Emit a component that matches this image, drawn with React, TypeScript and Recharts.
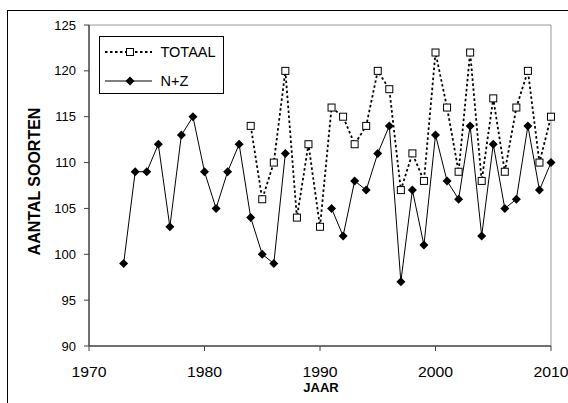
import React from "react";
import {
  LineChart,
  Line,
  XAxis,
  YAxis,
  ReferenceLine,
} from "recharts";

// years 1973..2010
const years = [
  1973, 1974, 1975, 1976, 1977, 1978, 1979, 1980, 1981, 1982, 1983, 1984, 1985,
  1986, 1987, 1988, 1989, 1990, 1991, 1992, 1993, 1994, 1995, 1996, 1997, 1998,
  1999, 2000, 2001, 2002, 2003, 2004, 2005, 2006, 2007, 2008, 2009, 2010,
];

const totaal: (number | null)[] = [
  null, null, null, null, null, null, null, null, null, null, null, 114, 106,
  110, 120, 104, 112, 103, 116, 115, 112, 114, 120, 118, 107, 111,
  108, 122, 116, 109, 122, 108, 117, 109, 116, 120, 110, 115,
];

const nz: (number | null)[] = [
  99, 109, 109, 112, 103, 113, 115, 109, 105, 109, 112, 104, 100,
  99, 111, null, null, null, 105, 102, 108, 107, 111, 114, 97, 107,
  101, 113, 108, 106, 114, 102, 112, 105, 106, 114, 107, 110,
];

const xTicks = [1970, 1980, 1990, 2000, 2010];
const yTicks = [90, 95, 100, 105, 110, 115, 120, 125];

const data = years.map((jaar, i) => ({
  jaar,
  totaal: totaal[i],
  nz: nz[i],
}));

const FONT = "'Liberation Sans', Arial, sans-serif";

const SquareDot = (props: any) => {
  const { cx, cy, index } = props;
  if (cx == null || cy == null || props.value == null) return <g key={"s" + index} />;
  return (
    <rect
      key={"s" + index}
      x={cx - 3.5}
      y={cy - 3.5}
      width={7}
      height={7}
      fill="#fff"
      stroke="#000"
      strokeWidth={1}
    />
  );
};

const DiamondDot = (props: any) => {
  const { cx, cy, index } = props;
  if (cx == null || cy == null || props.value == null) return <g key={"d" + index} />;
  return (
    <path
      key={"d" + index}
      d={`M${cx},${cy - 4.5} L${cx + 4.5},${cy} L${cx},${cy + 4.5} L${cx - 4.5},${cy} Z`}
      fill="#000"
    />
  );
};

// year labels look a bit wider than the other text
const YearTick = (props: any) => {
  const { x, y, payload } = props;
  return (
    <text
      transform={`translate(${x},${y}) scale(1.13,1)`}
      dy="0.71em"
      textAnchor="middle"
      fontFamily={FONT}
      fontSize={14}
      fill="#000"
    >
      {payload.value}
    </text>
  );
};

const LegendBox = () => (
  <svg
    width={125}
    height={58}
    style={{ position: "absolute", left: 99, top: 36 }}
  >
    <rect x={0.5} y={0.5} width={124} height={57} fill="#fff" stroke="#000" />
    <line x1={6} y1={16} x2={53} y2={16} stroke="#000" strokeWidth={1.8} strokeDasharray="2.5 2.5" />
    <rect x={27.5} y={12.5} width={7} height={7} fill="#fff" stroke="#000" />
    <text x={61.5} y={21} fontFamily={FONT} fontSize={14.5}>TOTAAL</text>
    <line x1={6} y1={45} x2={53} y2={45} stroke="#000" strokeWidth={1} />
    <path d="M31,40.5 L35.5,45 L31,49.5 L26.5,45 Z" fill="#000" />
    <text x={61.5} y={50} fontFamily={FONT} fontSize={14.5}>N+Z</text>
  </svg>
);

export default function App() {
  return (
    <div style={{ position: "fixed", left: 0, top: 0, width: 568, height: 403, background: "#fff", overflow: "hidden" }}>
      <div
        style={{
          position: "absolute",
          left: 7,
          top: 10,
          width: 700,
          height: 500,
          borderLeft: "1px solid #000",
          borderTop: "1px solid #000",
        }}
      />
      <div style={{ position: "absolute", left: 0, top: 0 }}>
        <LineChart
          width={568}
          height={403}
          data={data}
          margin={{ top: 25, right: 17, bottom: 0, left: 0 }}
        >
          <XAxis
            dataKey="jaar"
            type="number"
            domain={[1970, 2010]}
            ticks={xTicks}
            height={57}
            tickSize={5}
            tickMargin={16}
            axisLine={{ stroke: "#404040", strokeWidth: 1.5 }}
            tickLine={{ stroke: "#404040" }}
            tick={<YearTick />}
            label={() => (
              <text
                x={321}
                y={392}
                textAnchor="middle"
                fontFamily={FONT}
                fontSize={13}
                fontWeight="bold"
                fill="#000"
              >
                JAAR
              </text>
            )}
          />
          <YAxis
            type="number"
            domain={[90, 125]}
            ticks={yTicks}
            width={89}
            tickSize={5}
            tickMargin={8}
            axisLine={{ stroke: "#404040", strokeWidth: 1.5 }}
            tickLine={{ stroke: "#404040" }}
            tick={{ fill: "#000", fontFamily: FONT, fontSize: 13 }}
            label={() => (
              <text
                x={40}
                y={181.5}
                transform="rotate(-90 40 181.5)"
                textAnchor="middle"
                fontFamily={FONT}
                fontSize={16}
                fontWeight="bold"
                fill="#000"
              >
                AANTAL SOORTEN
              </text>
            )}
          />
          <ReferenceLine y={125} stroke="#999" strokeWidth={1} />
          <ReferenceLine x={2010} stroke="#999" strokeWidth={1} />
          <Line
            type="linear"
            dataKey="totaal"
            stroke="#000"
            strokeWidth={1.8}
            strokeDasharray="2.5 2.5"
            dot={SquareDot}
            activeDot={false}
            connectNulls={false}
            isAnimationActive={false}
          />
          <Line
            type="linear"
            dataKey="nz"
            stroke="#000"
            strokeWidth={1}
            dot={DiamondDot}
            activeDot={false}
            connectNulls={false}
            isAnimationActive={false}
          />
        </LineChart>
      </div>
      <LegendBox />
    </div>
  );
}
